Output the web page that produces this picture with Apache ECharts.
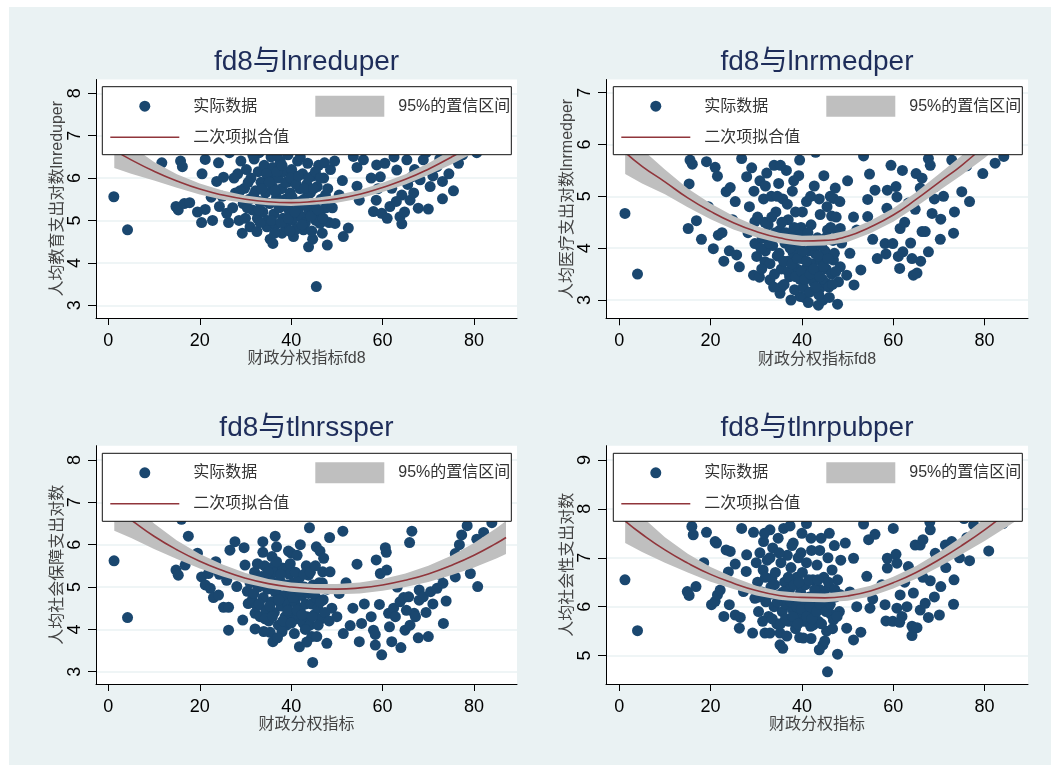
<!DOCTYPE html>
<html><head><meta charset="utf-8">
<script src="https://cdn.jsdelivr.net/npm/echarts@6/dist/echarts.min.js"></script>
<style>html,body{margin:0;padding:0;background:#fff;}#c{position:absolute;left:9px;top:7px;width:1042px;height:758px;}</style>
</head><body><div id="c"></div><script>
// ---------- data ----------
const xTicks = [0, 20, 40, 60, 80];
const fitX = [1.3, 5, 10, 15, 20, 25, 30, 35, 40, 45, 50, 55, 60, 65, 70, 75, 80, 85, 87];

// panel 1: fd8 vs lnreduper
const eduTicks = [3, 4, 5, 6, 7, 8];
const eduData = [[1.2,5.56],[4.2,4.78],[45.5,3.44],
[11.7,6.36],[14.8,5.33],[15.3,5.25],[16.6,5.4],[17.8,5.42],[15.8,6.4],[16.2,6.27],[14.5,6.75],[18.5,6.9],
[20.4,4.95],[22.8,5.0],[21.2,5.26],[21.2,6.44],[24.1,6.36],[23.7,5.92],[25.2,6.02],[24.3,5.33],[26.3,4.95],[25.9,5.17],[22.5,5.55],[24.9,5.57],[20.5,6.1],[23.0,6.75],[26.5,6.6],[19.5,5.2],
[29.3,4.7],[31.0,4.85],[32.5,4.74],[34.7,4.85],[35.4,4.56],[36.0,4.46],[38.0,4.7],[40.5,4.62],[42.7,4.78],[43.8,4.38],[44.7,4.56],[46.3,4.93],[47.9,4.42],[46.3,5.2],
[27.2,5.3],[27.8,5.65],[28.3,6.1],[28.6,5.0],[29.0,6.4],[29.5,5.4],[29.8,5.76],[30.2,6.2],[30.0,5.05],
[30.8,5.5],[31.2,6.0],[31.5,5.25],[31.9,6.45],[32.2,5.7],[32.6,5.05],[32.8,6.15],[33.1,5.45],[33.4,5.9],[33.0,6.6],
[33.8,5.2],[34.1,6.3],[34.4,5.65],[34.8,5.0],[35.0,6.05],[35.3,5.4],[35.6,6.5],[35.9,5.8],[36.2,5.15],[36.0,6.25],
[36.6,4.9],[36.8,5.55],[37.1,6.0],[37.4,5.3],[37.6,6.4],[37.9,5.75],[38.2,5.05],[38.4,6.15],[38.7,5.5],[38.9,4.85],[39.1,5.9],[39.3,6.55],[39.5,5.25],
[39.8,5.65],[40.1,6.2],[40.3,5.0],[40.6,5.45],[40.9,5.95],[41.2,4.8],[41.4,6.4],[41.7,5.3],[41.9,5.75],[42.2,5.1],
[42.5,6.1],[42.8,5.5],[43.1,4.95],[43.4,5.85],[43.6,6.35],[43.9,5.25],[44.2,5.65],[44.5,4.75],[44.8,6.05],[45.0,5.4],
[45.4,5.0],[45.7,5.8],[46.0,6.3],[46.5,5.5],[46.8,4.7],[47.1,6.0],[47.3,6.36],[47.6,5.3],[48.0,5.75],[48.3,4.95],
[30.4,5.3],[31.8,5.6],[32.9,5.25],[33.6,5.75],[34.0,5.45],[34.6,6.1],[35.2,5.9],[35.7,5.0],[36.4,5.7],[36.9,6.15],[37.2,5.45],[37.8,4.95],[38.0,6.3],[38.5,5.35],[38.8,5.9],[39.4,5.05],[39.9,6.0],[40.2,5.55],[40.8,5.2],[41.1,5.85],[41.6,6.05],[42.0,5.45],[42.4,4.9],[42.9,5.75],[43.3,5.35],[43.8,6.0],[44.3,5.1],[44.9,5.75],[45.3,6.15],[45.9,5.25],[46.4,6.0],[47.0,5.05],[47.5,5.6],[33.2,4.95],[36.4,4.7],[39.7,4.75],[30.6,5.9],[31.6,6.55],[37.0,6.55],[42.0,6.5],[28.8,5.7],[27.5,6.0],[49.0,5.3],[48.6,6.2],
[30.5,6.8],[34.5,6.9],[37.5,6.75],[41.0,6.85],[44.0,7.0],[39.0,7.2],[36.0,7.05],
[49.6,4.93],[51.4,4.62],[52.5,4.82],[51.2,5.94],[54.4,5.81],[54.9,5.48],[54.4,6.25],[55.8,6.43],[53.6,6.51],[50.5,5.6],[52.0,6.7],[49.5,6.4],
[58.0,5.21],[58.6,5.48],[59.8,5.17],[59.5,6.03],[58.7,6.31],[60.5,6.35],[61.6,5.33],[62.0,5.76],[63.1,6.19],[63.8,5.09],[64.2,4.92],[64.2,5.6],[65.3,6.43],[66.0,5.48],[66.4,6.03],[67.8,5.29],[68.2,5.96],[68.9,6.43],[70.0,5.27],[70.4,5.8],[71.9,6.27],[73.1,5.92],[73.1,5.51],[76.6,6.35],[80.6,6.6],
[59.0,5.75],[61.0,5.05],[62.5,6.5],[64.8,5.2],[65.5,5.85],[67.0,6.2],[69.5,6.6],[72.5,6.45],[74.5,6.1],[75.5,5.7],[77.5,6.55],[78.5,6.75],[82.0,6.7],[83.5,6.9],[79.0,6.95],[60.0,6.7],[63.0,5.45],[66.8,5.65],[71.0,6.05],[57.5,6.0]];
const eduFit = [6.66,6.43,6.16,5.93,5.74,5.60,5.50,5.44,5.42,5.45,5.51,5.62,5.78,5.97,6.21,6.49,6.81,7.18,7.34];
const eduCI  = [0.42,0.33,0.22,0.16,0.13,0.11,0.09,0.08,0.08,0.08,0.09,0.10,0.11,0.12,0.14,0.17,0.21,0.26,0.29];

// panel 2: fd8 vs lnrmedper
const medTicks = [3, 4, 5, 6, 7];
const medData = [[1.25,4.67],[4.0,3.5],
[15.5,5.7],[16.0,5.62],[15.3,5.24],[15.1,4.38],[16.9,4.53],[18.0,4.17],[19.1,5.67],[21.0,5.56],[21.5,5.39],[20.6,3.99],[21.7,4.25],[22.9,3.75],[23.4,5.09],[24.3,5.17],[24.1,3.95],[25.4,4.9],[26.3,3.64],[25.7,3.87],[26.8,5.73],[27.9,5.38],[22.5,4.3],[24.8,4.55],[19.5,4.8],[17.5,6.0],[23.5,6.1],[26.0,6.3],
[29.7,4.51],[29.7,4.09],[29.4,3.48],[30.1,3.84],[30.7,3.44],[31.9,3.74],[33.0,3.39],[35.2,3.13],[35.6,3.26],[39.6,3.07],[40.5,3.05],[43.6,2.9],[44.6,3.0],[47.8,2.92],[44.0,3.23],[45.4,3.32],[46.9,3.77],[48.4,3.64],[47.3,5.16],[46.9,4.96],[46.5,4.62],[48.4,4.38],
[28.5,4.8],[29.0,5.55],[29.5,5.1],[30.3,4.6],[30.8,5.3],[28.2,4.3],
[31.3,4.2],[31.6,4.95],[32.0,3.95],[32.3,5.45],[32.6,4.45],[33.0,3.7],[33.3,5.0],[33.6,4.05],[33.9,5.6],[34.0,3.5],
[34.3,4.7],[34.6,3.85],[34.9,5.25],[35.2,4.35],[35.5,3.6],[35.8,4.95],[36.1,3.3],[36.3,4.1],[36.6,5.5],[36.9,3.75],[37.0,4.55],
[37.3,3.45],[37.6,4.25],[37.9,5.1],[38.1,3.9],[38.4,3.2],[38.6,4.7],[38.9,3.6],[39.1,4.05],[39.3,5.4],[39.6,3.4],[39.8,4.4],[40.0,3.8],
[40.3,3.25],[40.5,4.15],[40.8,3.6],[41.0,4.9],[41.2,3.45],[41.5,3.95],[41.7,3.15],[42.0,4.45],[42.2,3.7],[42.5,3.35],[42.7,5.2],[42.9,3.9],
[43.2,3.55],[43.4,4.2],[43.7,3.1],[44.0,4.65],[44.2,3.75],[44.5,3.4],[44.8,5.4],[45.0,3.95],[45.3,3.6],[45.6,4.35],[45.9,3.25],[46.2,5.0],
[46.5,3.5],[46.8,4.15],[47.1,3.9],[47.5,4.6],[48.0,3.35],[48.3,4.9],[48.7,4.1],
[31.0,4.0],[31.9,4.5],[32.8,4.1],[33.4,4.6],[34.2,4.3],[35.0,3.9],[35.6,4.5],[36.0,3.75],[36.5,4.3],[37.0,3.55],[37.4,4.0],[37.8,3.7],[38.3,4.4],[38.6,3.45],[39.0,3.8],[39.4,4.25],[39.9,3.55],[40.2,3.95],[40.6,3.4],[41.0,3.75],[41.3,4.3],[41.8,3.5],[42.3,4.05],[42.6,3.6],[43.0,3.25],[43.5,3.85],[43.9,3.45],[44.3,4.05],[44.7,3.65],[45.2,4.2],[45.7,3.8],[46.3,4.4],[46.7,3.3],[47.4,3.55],[47.8,4.3],[34.6,5.0],[36.8,4.85],[38.2,5.3],[40.1,4.7],[41.9,5.0],[43.8,4.95],[45.5,4.8],[32.0,5.2],[35.3,5.6],[39.5,5.7],[31.2,3.6],[33.8,3.25],[37.6,3.0],[41.4,2.95],[46.0,3.05],
[30.0,6.0],[33.0,6.2],[36.0,6.5],[39.0,5.9],[41.0,6.3],[44.0,6.1],[38.0,6.8],[35.0,6.05],[43.0,5.85],
[49.8,3.48],[51.4,3.29],[52.9,3.58],[51.3,4.6],[53.5,5.78],[54.8,5.43],[54.4,4.94],[54.4,4.61],[56.0,5.12],[55.5,4.17],[50.5,3.9],[52.0,4.35],[50.0,5.3],
[58.7,5.12],[58.6,4.77],[58.2,4.09],[58.4,3.89],[59.9,4.09],[60.6,5.19],[60.8,4.99],[61.5,4.38],[61.1,3.84],[61.4,3.61],[62.1,3.93],[63.3,4.87],[64.1,3.8],[64.4,3.48],[65.0,5.44],[65.2,3.52],[65.9,5.16],[66.3,5.35],[66.3,4.32],[67.0,4.32],[67.7,3.93],[67.7,5.73],[68.1,5.6],[68.5,4.67],[69.2,5.19],[70.3,4.17],[70.4,4.56],[71.4,5.38],[72.8,5.7],[73.2,4.29],[73.4,4.7],[73.9,5.52],[75.0,5.09],[76.1,5.59],[76.7,4.9],[79.6,5.44],[82.3,5.64],[84.2,5.77],
[62.5,4.5],[63.8,4.1],[59.5,5.6],[62.0,5.5],[64.8,4.75],[66.0,3.75],[69.0,4.95],[71.0,5.0],[74.0,6.0],[78.0,5.95],[80.5,6.1],[83.0,6.25],[60.0,6.3],[67.0,6.1],[72.0,6.4],[57.5,5.95],[56.5,3.8]];
const medFit = [5.85,5.58,5.28,4.97,4.71,4.49,4.32,4.20,4.14,4.15,4.23,4.41,4.64,4.94,5.27,5.60,5.98,6.40,6.56];
const medCI  = [0.42,0.33,0.24,0.18,0.15,0.13,0.11,0.10,0.10,0.10,0.11,0.12,0.13,0.14,0.16,0.19,0.24,0.30,0.33];

// panel 3: fd8 vs tlnrssper
const ssTicks = [3, 4, 5, 6, 7, 8];
const ssData = [[1.25,5.62],[4.2,4.28],[44.7,3.22],
[14.8,5.4],[15.3,5.28],[16.8,5.52],[20.4,5.24],[21.2,5.05],[21.9,5.32],[22.3,4.97],[23.0,4.75],[24.1,4.81],[24.3,5.3],[25.2,4.52],[26.3,4.52],[26.3,3.98],[25.9,5.16],[26.6,5.87],[27.7,6.07],[28.1,5.01],[29.4,4.22],[29.7,5.93],[29.9,5.52],[30.4,4.9],[30.6,4.61],[32.1,4.01],[32.1,4.38],[33.8,6.07],[33.8,5.82],[35.4,3.93],[36.0,3.71],[35.8,5.72],[36.1,5.48],[23.5,5.6],[19.5,5.8],[17.5,6.2],[16.0,6.6],
[31.0,5.1],[31.5,4.7],[32.0,5.35],[32.5,4.55],[32.8,5.0],[33.2,4.3],[33.5,5.25],[33.9,4.75],[34.2,5.5],[34.5,4.45],[34.8,4.95],[35.1,4.2],[35.4,5.2],[35.7,4.65],[36.0,5.0],[36.3,4.4],[36.6,5.35],[36.9,4.85],[37.2,4.1],[37.5,5.15],[37.8,4.55],[38.1,5.45],[38.3,5.44],[38.4,4.8],[38.7,4.3],[39.0,4.1],[39.0,5.05],[39.3,4.6],[39.6,4.18],[39.6,5.3],[39.9,4.85],[40.2,4.4],[40.5,5.1],[40.8,4.65],[41.1,4.25],[41.4,4.95],[41.8,3.59],[41.7,5.2],[42.0,4.5],[42.3,4.8],[42.6,4.15],[42.9,5.0],[43.3,5.5],[43.2,4.6],[43.5,4.3],[43.8,5.28],[43.8,4.85],[44.1,4.1],[44.5,3.83],[44.4,4.6],[44.8,5.05],[45.1,4.35],[45.5,5.95],[45.4,4.75],[45.6,3.83],[45.8,4.5],[46.1,5.1],[46.3,5.85],[46.5,4.25],[46.9,5.36],[47.1,5.68],[47.0,4.7],[47.8,3.67],[48.5,5.36],[48.4,6.17],[48.9,4.5],[38.0,3.95],[42.0,6.0],[40.0,5.8],[36.5,6.2],[44.0,6.4],
[31.8,4.85],[32.6,5.55],[33.0,4.6],[33.7,5.05],[34.3,4.25],[34.9,5.35],[35.3,4.55],[35.9,4.3],[36.4,4.9],[36.8,5.6],[37.3,4.7],[37.7,5.3],[38.2,4.2],[38.6,5.05],[39.2,4.45],[39.8,5.55],[40.0,4.15],[40.4,4.75],[40.9,5.35],[41.3,4.45],[41.9,4.9],[42.4,4.35],[42.8,5.3],[43.1,4.0],[43.6,4.95],[44.2,5.35],[44.6,4.3],[45.0,4.85],[45.3,5.5],[45.9,4.1],[46.4,4.65],[46.8,5.1],[47.4,4.4],[47.9,4.95],[48.3,4.2],[37.0,3.8],[40.7,3.9],[43.4,3.7],[34.0,3.95],[39.4,5.85],[41.3,5.75],[36.8,5.95],
[50.0,4.3],[51.3,6.32],[51.4,3.9],[52.9,4.09],[54.4,5.54],[54.9,3.71],[55.4,4.14],[50.5,4.85],[52.0,5.1],[53.5,4.5],[56.0,4.6],
[58.0,3.98],[58.4,3.63],[58.4,3.88],[58.6,5.64],[59.3,4.59],[59.5,5.32],[59.8,3.4],[60.6,5.93],[60.8,5.82],[60.9,5.4],[61.3,4.38],[61.5,4.06],[62.0,3.71],[62.4,4.5],[63.8,4.65],[64.0,3.57],[64.6,4.75],[64.9,3.98],[65.7,4.77],[65.9,6.05],[66.4,6.32],[66.0,4.1],[66.9,4.38],[67.8,3.8],[68.0,4.93],[68.0,4.69],[68.9,4.77],[70.0,3.83],[70.5,4.89],[71.9,4.97],[73.2,5.09],[73.3,4.14],[73.9,4.67],[75.9,5.79],[75.9,5.24],[77.3,6.23],[79.2,5.32],[80.6,6.13],[80.8,5.01],[82.1,6.29],[83.9,6.52],
[62.8,4.3],[63.2,5.0],[65.2,4.45],[67.2,4.3],[69.5,4.4],[72.5,5.3],[74.5,5.5],[76.8,6.0],[78.5,6.45],[81.5,6.7],[85.0,6.8],[71.0,4.6],[57.5,4.3]];
const ssFit = [6.85,6.58,6.20,5.88,5.61,5.39,5.21,5.08,5.00,4.96,4.95,4.98,5.05,5.16,5.31,5.51,5.75,6.04,6.17];
const ssCI  = [0.52,0.42,0.30,0.22,0.17,0.14,0.12,0.11,0.11,0.11,0.12,0.13,0.14,0.16,0.19,0.23,0.29,0.36,0.39];

// panel 4: fd8 vs tlnrpubper
const pubTicks = [5, 6, 7, 8, 9];
const pubData = [[1.25,6.55],[4.0,5.51],[45.6,4.67],
[14.9,6.31],[15.3,6.23],[16.8,6.41],[15.9,7.64],[16.2,7.47],[19.1,7.52],[21.0,7.33],[21.3,7.3],[20.2,6.04],[21.0,6.11],[21.5,6.24],[22.1,6.34],[22.9,5.8],[23.4,7.16],[24.3,7.13],[23.9,6.71],[24.1,6.04],[25.4,6.87],[25.4,5.83],[26.3,5.56],[26.5,5.78],[26.8,7.6],[27.2,6.31],[27.8,6.72],[27.9,7.06],[29.2,5.46],[29.4,7.52],[29.7,6.17],[30.5,5.9],[31.6,7.33],[31.9,5.46],[33.0,7.57],[33.0,5.46],[33.4,6.58],[35.2,5.22],[35.8,5.15],[35.2,5.46],[18.5,6.9],[17.0,8.0],[24.5,8.1],
[30.0,6.9],[30.3,6.5],[30.8,7.1],[31.2,6.3],[31.5,6.75],[31.8,7.5],[32.1,6.1],[32.4,6.95],[32.7,5.8],[33.2,6.4],[33.6,7.2],[33.9,6.0],[34.2,6.7],[34.5,5.65],[34.8,7.4],[35.1,6.25],[35.4,6.9],[35.7,5.9],[36.0,7.6],[36.2,6.5],[36.5,6.05],[36.8,7.05],[37.1,5.7],[37.3,6.35],[37.6,6.8],[37.9,5.95],[38.1,7.3],[38.4,6.15],[38.6,5.55],[38.9,6.6],[39.2,7.0],[39.5,5.37],[39.5,5.85],[39.7,6.3],[40.0,7.5],[40.3,5.36],[40.2,6.05],[40.5,5.7],[40.8,6.45],[41.0,6.9],[41.3,5.95],[41.6,6.2],[41.9,5.6],[42.1,7.15],[42.5,5.63],[42.4,6.55],[42.7,5.85],[43.0,6.1],[43.3,6.85],[43.8,5.12],[43.6,5.7],[43.9,6.35],[44.2,7.4],[44.6,5.22],[44.5,5.95],[44.8,6.6],[45.1,6.15],[45.4,5.5],[45.7,7.0],[46.0,6.4],[46.3,5.85],[46.6,6.75],[46.9,5.73],[47.1,7.25],[47.4,6.2],[47.8,5.03],[47.8,6.55],[48.2,5.9],[48.5,6.95],[36.0,8.0],[40.0,8.2],[44.0,7.9],[38.0,7.85],
[30.6,6.2],[31.4,5.7],[32.0,6.6],[32.9,6.25],[33.5,5.75],[34.0,6.45],[34.6,6.1],[35.3,5.65],[35.9,6.3],[36.4,5.75],[37.0,6.6],[37.5,6.1],[38.0,5.8],[38.3,6.45],[38.8,6.0],[39.1,5.65],[39.4,6.5],[39.9,5.95],[40.1,6.7],[40.6,6.15],[41.1,5.8],[41.5,6.55],[41.8,6.0],[42.2,5.75],[42.8,6.35],[43.2,5.9],[43.5,6.55],[44.0,6.05],[44.3,5.65],[44.9,6.25],[45.3,5.9],[45.8,6.5],[46.2,6.05],[46.7,5.55],[47.2,6.35],[47.7,5.8],[48.3,6.25],[33.0,7.0],[35.0,7.1],[37.8,7.25],[39.8,7.1],[42.0,7.4],[43.9,7.15],[46.0,7.5],[41.0,7.7],[37.4,7.65],[45.0,5.3],[42.0,5.35],[36.7,5.4],
[49.8,5.56],[51.3,5.32],[52.9,5.48],[51.3,6.99],[54.2,6.62],[54.9,5.97],[55.5,6.16],[54.6,7.37],[56.0,7.48],[53.5,7.69],[50.5,6.3],[52.0,6.0],[49.5,7.3],
[58.2,6.04],[58.4,5.71],[58.7,6.79],[58.7,6.99],[59.9,5.7],[60.6,7.07],[60.8,6.89],[60.8,5.97],[61.5,6.24],[61.9,5.8],[61.4,5.68],[63.3,6.82],[64.1,5.6],[64.1,5.41],[64.4,6.28],[64.8,7.26],[65.2,5.57],[65.9,7.26],[65.9,5.93],[66.5,7.37],[67.0,6.07],[67.7,5.78],[68.0,7.73],[68.1,7.57],[68.1,6.53],[69.2,7.09],[70.1,5.83],[70.4,6.41],[71.4,7.26],[72.8,7.33],[73.2,6.05],[73.3,6.55],[76.1,7.41],[76.7,6.94],[77.6,7.67],[80.9,7.14],
[62.5,6.5],[63.0,6.0],[66.5,6.6],[69.0,6.2],[71.5,6.8],[74.5,7.0],[75.5,7.8],[79.0,7.9],[82.5,8.0],[84.0,7.7],[60.0,7.6],[57.5,6.45]];
const pubFit = [7.75,7.48,7.16,6.89,6.66,6.48,6.33,6.23,6.19,6.18,6.22,6.32,6.49,6.70,6.96,7.25,7.57,7.93,8.08];
const pubCI  = [0.45,0.36,0.26,0.19,0.15,0.12,0.10,0.09,0.09,0.09,0.10,0.11,0.12,0.13,0.15,0.18,0.23,0.29,0.32];

// ---------- layout / style ----------
const LATIN = "'Liberation Sans', 'Noto Sans CJK SC', sans-serif";
const CJK = "'Liberation Sans', 'Noto Sans CJK SC', sans-serif";
const NAVY = '#1a476f', MAROON = '#90353b', BAND = '#bfbfbf';
const DOT_ICON = 'path://M0 0M69 21M29 10.5a5.5 5.5 0 1 0 11 0a5.5 5.5 0 1 0 -11 0Z';
const RECT_ICON = 'path://M0 0H69V21H0Z';
const LINE_ICON = 'path://M0 0M69 21M0 9.7H69V11.3H0Z';

const panels = [
  {title:'fd8与lnreduper', xName:'财政分权指标fd8', yName:'人均教育支出对数lnreduper',
   pts:eduData, fit:eduFit, ci:eduCI, yTicks:eduTicks,
   grid:{left:87, top:72.5, width:421, height:238.5}, xr:[-2.7,89.4], yr:[2.70,8.325],
   lg:{left:93.3, top:79.7}, tx:297.5, ty:55},
  {title:'fd8与lnrmedper', xName:'财政分权指标fd8', yName:'人均医疗支出对数lnrmedper',
   pts:medData, fit:medFit, ci:medCI, yTicks:medTicks,
   grid:{left:597, top:72.5, width:422, height:238.8}, xr:[-2.9,89.5], yr:[2.647,7.255],
   lg:{left:604.3, top:79.7}, tx:808, ty:55},
  {title:'fd8与tlnrssper', xName:'财政分权指标', yName:'人均社会保障支出对数',
   pts:ssData, fit:ssFit, ci:ssCI, yTicks:ssTicks,
   grid:{left:87, top:438.7, width:421, height:238.3}, xr:[-2.7,89.4], yr:[2.71,8.338],
   lg:{left:93.3, top:446.3}, tx:297.5, ty:421},
  {title:'fd8与tlnrpubper', xName:'财政分权指标', yName:'人均社会性支出对数',
   pts:pubData, fit:pubFit, ci:pubCI, yTicks:pubTicks,
   grid:{left:597, top:438.7, width:422, height:238.3}, xr:[-2.9,89.5], yr:[4.42,9.29],
   lg:{left:604.3, top:446.3}, tx:808, ty:421}
];

const option = {
  animation:false,
  backgroundColor:'#eaf2f3',
  title:[], grid:[], xAxis:[], yAxis:[], legend:[], series:[]
};

panels.forEach((p, i) => {
  option.title.push({text:p.title, left:p.tx, top:p.ty, textAlign:'center', textVerticalAlign:'middle', padding:0,
    textStyle:{fontFamily:LATIN, fontSize:28, fontWeight:'normal', color:'#1e2d5a'}});
  option.grid.push(Object.assign({show:true, backgroundColor:'#ffffff', borderWidth:0, containLabel:false}, p.grid));
  option.xAxis.push({type:'value', gridIndex:i, min:p.xr[0], max:p.xr[1],
    name:p.xName, nameLocation:'middle', nameGap:33,
    nameTextStyle:{fontFamily:CJK, fontSize:16, color:'#444'},
    axisLine:{show:true, onZero:false, lineStyle:{color:'#000', width:1}},
    axisTick:{show:true, inside:false, length:7, customValues:xTicks, lineStyle:{color:'#000'}},
    axisLabel:{customValues:xTicks, margin:14, fontFamily:LATIN, fontSize:18, color:'#000'},
    splitLine:{show:false}});
  option.yAxis.push({type:'value', gridIndex:i, min:p.yr[0], max:p.yr[1],
    name:p.yName, nameLocation:'middle', nameGap:28, nameRotate:90,
    nameTextStyle:{fontFamily:CJK, fontSize:16, color:'#444'},
    axisLine:{show:true, onZero:false, lineStyle:{color:'#000', width:1}},
    axisTick:{show:true, inside:false, length:8, customValues:p.yTicks, lineStyle:{color:'#000'}},
    axisLabel:{customValues:p.yTicks, rotate:90, margin:12, fontFamily:LATIN, fontSize:18, color:'#000'},
    splitLine:{show:true, lineStyle:{color:'#eaf2f3', width:1.5}}});
  option.legend.push({left:p.lg.left, top:p.lg.top, orient:'horizontal', width:402,
    padding:[9, 1, 7, 8], itemWidth:69, itemHeight:21, itemGap:10,
    backgroundColor:'#ffffff', borderColor:'#111', borderWidth:1, z:10, selectedMode:false,
    textStyle:{fontFamily:CJK, fontSize:16, color:'#333', lineHeight:21, padding:[0,0,0,9]},
    data:[
      {name:'实际数据', icon:DOT_ICON, textStyle:{padding:[0,48,0,9]}},
      {name:'95%的置信区间', icon:RECT_ICON, textStyle:{padding:[0,0,0,9]}},
      {name:'二次项拟合值', icon:LINE_ICON, textStyle:{padding:[0,0,0,9]}}
    ]});
  const bandRows = fitX.map((x, k) => [x, p.fit[k] - p.ci[k], p.fit[k] + p.ci[k]]);
  option.series.push({name:'实际数据', type:'scatter', xAxisIndex:i, yAxisIndex:i, data:p.pts,
    symbol:'circle', symbolSize:11, itemStyle:{color:NAVY, opacity:1}, z:2, silent:true});
  option.series.push({name:'95%的置信区间', type:'custom', xAxisIndex:i, yAxisIndex:i, data:bandRows,
    encode:{x:0, y:[1,2]}, clip:true, z:3, silent:true, itemStyle:{color:BAND},
    renderItem:(params, api) => {
      if (params.dataIndex !== 0) return null;
      const up = bandRows.map(r => api.coord([r[0], r[2]]));
      const lo = bandRows.map(r => api.coord([r[0], r[1]])).reverse();
      return {type:'polygon', shape:{points:up.concat(lo)}, style:{fill:BAND}};
    }});
  option.series.push({name:'二次项拟合值', type:'line', xAxisIndex:i, yAxisIndex:i,
    data:fitX.map((x, k) => [x, p.fit[k]]), smooth:true, symbol:'none', showSymbol:false,
    itemStyle:{color:MAROON}, lineStyle:{color:MAROON, width:1.6}, z:4, silent:true});
});

const chart = echarts.init(document.getElementById('c'), null, {renderer:'canvas'});
chart.setOption(option);
</script></body></html>
